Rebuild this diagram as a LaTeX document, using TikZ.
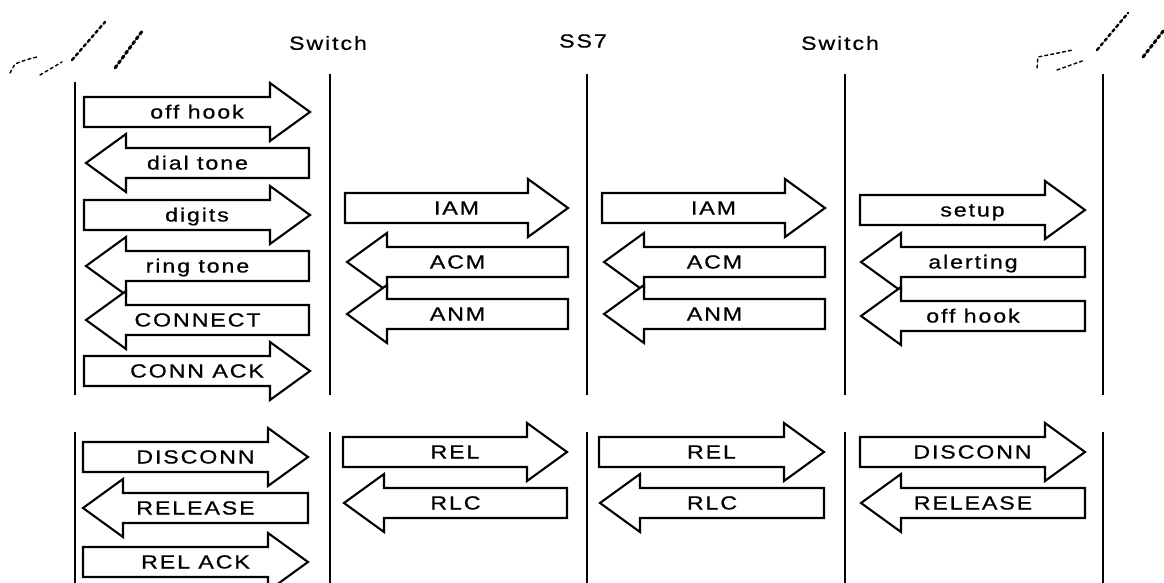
\documentclass[tikz,border=0pt]{standalone}
\usepackage{fontspec}
\setmainfont{Liberation Sans}[FakeStretch=1.22,LetterSpace=10,FakeBold=0.7]
\usepackage{tikz}
\usetikzlibrary{calc}

% block arrow pointing right: name, left x, tip x, y, label
\newcommand{\msgright}[5]{%
  \draw[msgbox] (#2,#4-15) -- (#3-40,#4-15) -- (#3-40,#4-29) -- (#3,#4)
    -- (#3-40,#4+29) -- (#3-40,#4+15) -- (#2,#4+15) -- cycle;
  \node[msgtext] (#1) at ({(#2+#3)/2},#4) {#5};}
% block arrow pointing left: name, tip x, right x, y, label
\newcommand{\msgleft}[5]{%
  \draw[msgbox] (#3,#4-15) -- (#2+40,#4-15) -- (#2+40,#4-29) -- (#2,#4)
    -- (#2+40,#4+29) -- (#2+40,#4+15) -- (#3,#4+15) -- cycle;
  \node[msgtext] (#1) at ({(#2+#3)/2},#4) {#5};}

\begin{document}
\begin{tikzpicture}[x=1pt, y=-1pt,
    lifeline/.style={line width=2.4pt},
    msgbox/.style={draw, fill=white, line width=2.1pt, line join=miter},
    msgtext/.style={font=\fontsize{19}{19}\selectfont, inner sep=0pt, text height=13pt, text depth=0pt},
    heading/.style={font=\fontsize{19}{19}\selectfont, inner sep=0pt},
    sketch/.style={dashed, line width=1.4pt, line cap=round}]
  \useasboundingbox (0,0) rectangle (1164,583);

  % phones
  \draw[sketch] (10,73) -- (15,64) .. controls (25,60) .. (37,57);
  \draw[sketch] (40,75) -- (62,62);
  \draw[sketch, line width=2.4pt] (72,60) -- (105,22);
  \draw[sketch, line width=3pt] (115,68) -- (143,30);
  \draw[sketch] (1037,68) -- (1038,57) .. controls (1055,53) .. (1073,50);
  \draw[sketch] (1057,70) -- (1085,60);
  \draw[sketch, line width=2.4pt] (1097,50) -- (1128,13);
  \draw[sketch, line width=3pt] (1143,57) -- (1164,30);

  % headings
  \node[heading] (sw1) at (328,43) {Switch};
  \node[heading] (ss7) at (583,41) {SS7};
  \node[heading] (sw2) at (840,43) {Switch};

  % lifelines
  \foreach \x/\t in {75/82, 330/74, 587/74, 845/74, 1103/74} {
    \draw[lifeline] (\x,\t) -- (\x,395);
    \draw[lifeline] (\x,432) -- (\x,583);
  }

  % call setup
  \msgright{offhookA}{84}{310}{112}{off hook}
  \msgleft{dialtone}{86}{309}{163}{dial tone}
  \msgright{digits}{84}{310}{215}{digits}
  \msgleft{ringtone}{86}{309}{266}{ring tone}
  \msgleft{connect}{86}{309}{320}{CONNECT}
  \msgright{connack}{84}{310}{371}{CONN ACK}

  \msgright{iamA}{345}{568}{208}{IAM}
  \msgleft{acmA}{347}{568}{262}{ACM}
  \msgleft{anmA}{347}{568}{314}{ANM}

  \msgright{iamB}{602}{825}{208}{IAM}
  \msgleft{acmB}{604}{825}{262}{ACM}
  \msgleft{anmB}{604}{825}{314}{ANM}

  \msgright{setup}{860}{1085}{210}{setup}
  \msgleft{alerting}{861}{1085}{262}{alerting}
  \msgleft{offhookB}{861}{1085}{316}{off hook}

  % release
  \msgright{disconnA}{83}{308}{457}{DISCONN}
  \msgleft{releaseA}{83}{308}{508}{RELEASE}
  \msgright{relack}{83}{308}{562}{REL ACK}

  \msgright{relA}{343}{567}{452}{REL}
  \msgleft{rlcA}{344}{567}{503}{RLC}

  \msgright{relB}{599}{824}{452}{REL}
  \msgleft{rlcB}{600}{824}{503}{RLC}

  \msgright{disconnB}{860}{1085}{452}{DISCONN}
  \msgleft{releaseB}{861}{1085}{503}{RELEASE}
\end{tikzpicture}
\end{document}
